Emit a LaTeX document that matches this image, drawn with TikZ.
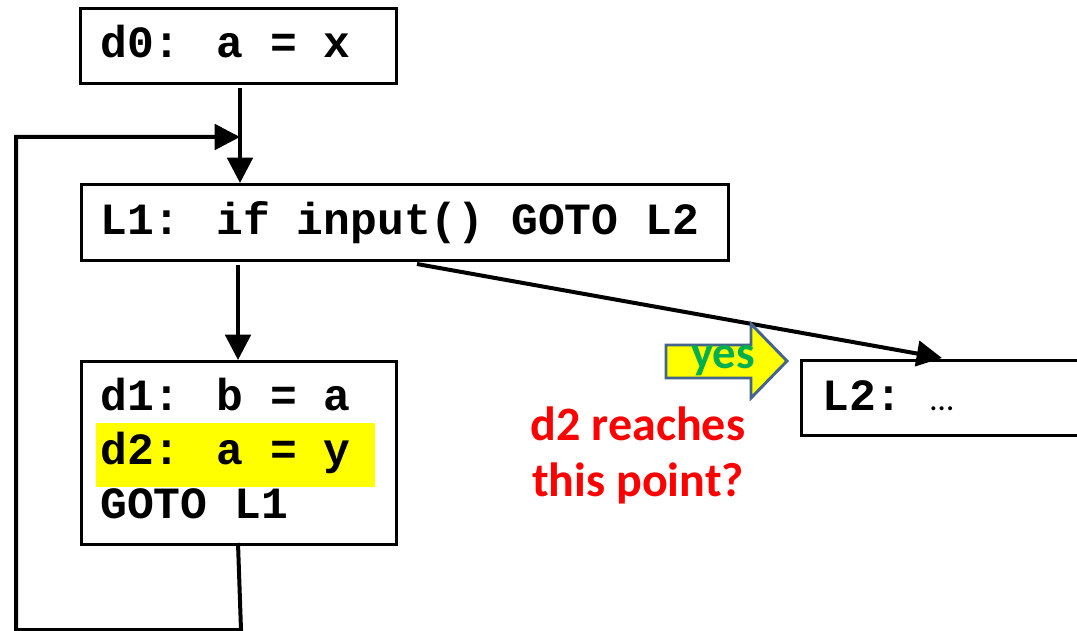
\documentclass[tikz,border=0pt]{standalone}
\usepackage{fontspec}
\usetikzlibrary{arrows.meta}
\newfontfamily\codefont{Liberation Mono}
\newfontfamily\labfont{Carlito}
\definecolor{hlyellow}{RGB}{255,255,0}
\definecolor{yesgreen}{RGB}{0,176,80}
\definecolor{arrowblue}{RGB}{68,100,140}
\definecolor{qred}{RGB}{255,0,0}
\begin{document}
\begin{tikzpicture}[x=0.75pt,y=-0.75pt,
  box/.style={draw=black,line width=2.2pt,rectangle,inner sep=0pt,anchor=north west},
  code/.style={font=\codefont\bfseries\fontsize{33.5}{40}\selectfont,anchor=base west,inner sep=0pt},
  arr/.style={line width=3pt,-{Triangle[length=19pt,width=19pt]}},
  hl/.style={fill=hlyellow,draw=none,rectangle,inner sep=0pt,anchor=north west},
  question/.style={font=\labfont\bfseries\fontsize{36}{42}\selectfont,text=qred,anchor=base,inner sep=0pt}
]
\useasboundingbox (0,0) rectangle (1077,631);

% boxes
\node[box,minimum width=237pt,minimum height=56.25pt] (d0) at (79,7) {};
\node[box,minimum width=485.25pt,minimum height=57pt] (L1) at (80,183) {};
\node[hl,minimum width=209.25pt,minimum height=48pt] (hl) at (96,423) {};
\node[box,minimum width=236.25pt,minimum height=137.25pt] (d1) at (80,360) {};
\node[box,minimum width=225pt,minimum height=56.25pt] (L2) at (800,359) {};

% texts
\node[code] (t0) at (100,58) {d0: a = x};
\node[code] (t1) at (100,234) {L1: if input() GOTO L2};
\node[code] (t2) at (100,410) {d1: b = a};
\node[code] (t3) at (100,464) {d2: a = y};
\node[code] (t4) at (100,518) {GOTO L1};
\node[code] (t5) at (822,410) {L2:};
\node[font=\labfont\fontsize{25}{28}\selectfont,anchor=base west,inner sep=0pt] (t6) at (930,410) {…};

% arrows
\coordinate (s0) at (240,88);
\draw[arr] (s0) -- (s0 |- L1.north);
\coordinate (s1) at (238,265);
\draw[arr] (s1) -- (s1 |- d1.north);
\coordinate (s2) at (417,264);
\coordinate (e2) at (942,358);
\draw[arr] (s2) -- (e2);

% loop back
\coordinate (l0) at (238,543);
\coordinate (l1) at (241,630);
\coordinate (l2) at (16,630);
\coordinate (l3) at (16,137);
\coordinate (l4) at (240,137);
\draw[arr,line join=miter] (l0) -- (l1) -- (l2) -- (l3) -- (l4);

% yes block arrow
\coordinate (y1) at (666,345);
\coordinate (y2) at (751,345);
\coordinate (y3) at (751,324);
\coordinate (y4) at (787,361);
\coordinate (y5) at (751,398);
\coordinate (y6) at (751,378);
\coordinate (y7) at (666,378);
\draw[draw=arrowblue,fill=hlyellow,line width=2.2pt,line join=miter] (y1) -- (y2) -- (y3) -- (y4) -- (y5) -- (y6) -- (y7) -- cycle;
\node[font=\labfont\bfseries\fontsize{35}{40}\selectfont,text=yesgreen,anchor=base,inner sep=0pt] (yes) at (723,368) {yes};

% question
\node[question] (q1) at (638,440) {d2 reaches};
\node[question] (q2) at (638,496) {this point?};
\end{tikzpicture}
\end{document}
